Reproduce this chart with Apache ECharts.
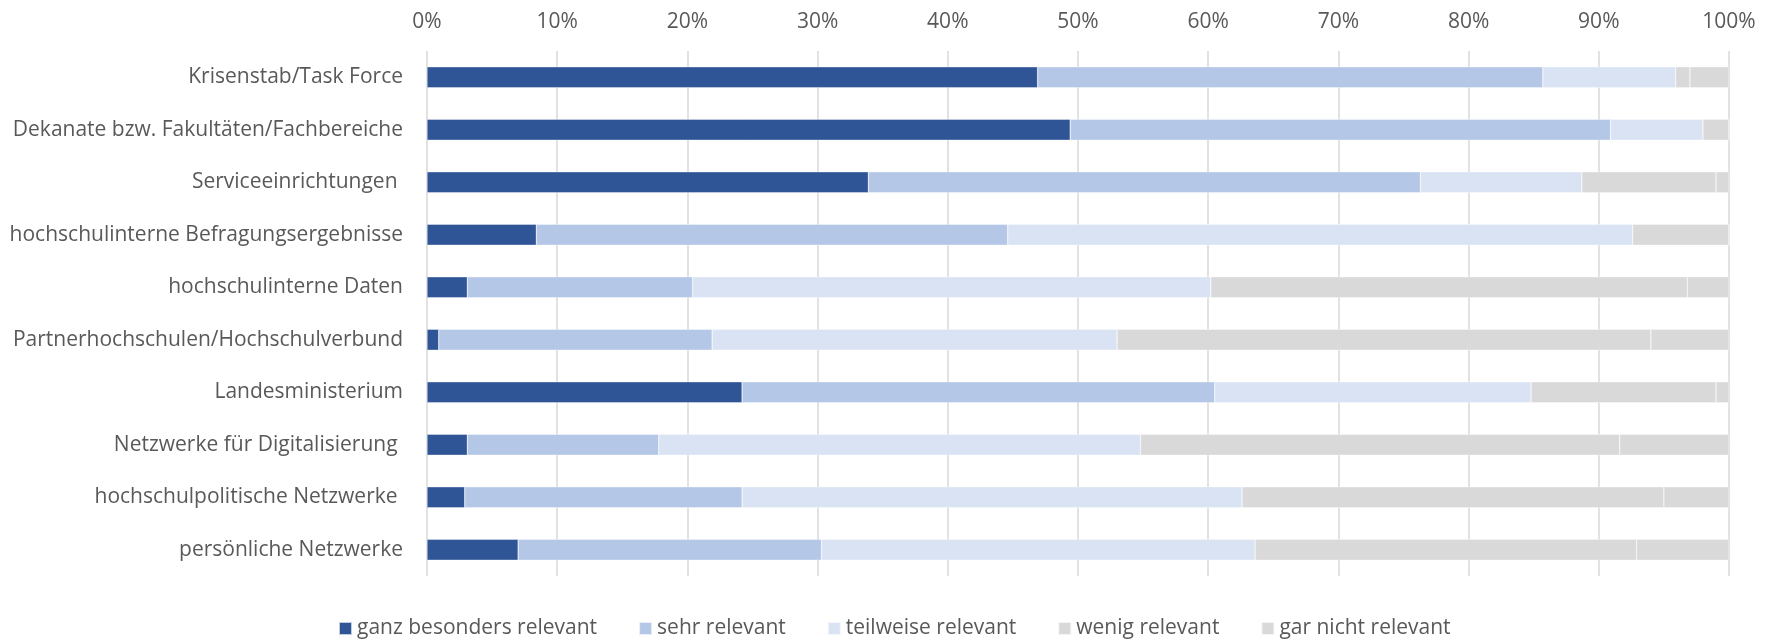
<!DOCTYPE html>
<html>
<head>
<meta charset="utf-8">
<script src="https://cdn.jsdelivr.net/npm/echarts@6/dist/echarts.min.js"></script>
<style>
  html, body { margin: 0; padding: 0; background: #ffffff; }
  #chart { width: 1776px; height: 640px; }
</style>
</head>
<body>
<div id="chart"></div>
<script>
const categories = [
  "Krisenstab/Task Force",
  "Dekanate bzw. Fakultäten/Fachbereiche",
  "Serviceeinrichtungen ",
  "hochschulinterne Befragungsergebnisse",
  "hochschulinterne Daten",
  "Partnerhochschulen/Hochschulverbund",
  "Landesministerium",
  "Netzwerke für Digitalisierung ",
  "hochschulpolitische Netzwerke ",
  "persönliche Netzwerke"
];
const seriesNames = ["ganz besonders relevant", "sehr relevant", "teilweise relevant", "wenig relevant", "gar nicht relevant"];
const ganzBesonders = [46.9, 49.4, 33.9, 8.4, 3.1, 0.9, 24.2, 3.1, 2.9, 7.0];
const sehr          = [38.8, 41.5, 42.4, 36.2, 17.3, 21.0, 36.3, 14.7, 21.3, 23.3];
const teilweise     = [10.2, 7.1, 12.4, 48.0, 39.8, 31.1, 24.3, 37.0, 38.4, 33.3];
const wenig         = [1.1, 2.0, 10.3, 7.4, 36.6, 41.0, 14.2, 36.8, 32.4, 29.3];
const garNicht      = [3.0, 0.0, 1.0, 0.0, 3.2, 6.0, 1.0, 8.4, 5.0, 7.1];
const colors = ["#2F5597", "#B4C7E7", "#DAE3F3", "#D9D9D9", "#D9D9D9"];

const allValues = [ganzBesonders, sehr, teilweise, wenig, garNicht];
const FONT = "'Open Sans', sans-serif";
const chart = echarts.init(document.getElementById('chart'), null, { renderer: 'canvas' });

chart.setOption({
  animation: false,
  backgroundColor: '#ffffff',
  grid: { left: 427, right: 47, top: 51, bottom: 64, containLabel: false },
  legend: {
    data: seriesNames,
    left: 338,
    top: 618,
    padding: 0,
    itemWidth: 13,
    itemHeight: 13,
    itemGap: 41,
    icon: 'rect',
    textStyle: { color: '#595959', fontSize: 21, fontFamily: FONT }
  },
  xAxis: {
    type: 'value',
    position: 'top',
    min: 0,
    max: 100,
    interval: 10,
    axisLine: { show: false },
    axisTick: { show: false },
    axisLabel: { formatter: '{value}%', color: '#595959', fontSize: 21, fontFamily: FONT, margin: 18 },
    splitLine: { show: true, lineStyle: { color: '#d9d9d9', width: 1.5 } }
  },
  yAxis: {
    type: 'category',
    inverse: true,
    data: categories,
    axisLine: { show: false },
    axisTick: { show: false },
    axisLabel: { color: '#595959', fontSize: 21, fontFamily: FONT, margin: 24 }
  },
  series: seriesNames.map((name, i) => ({
    name: name,
    type: 'bar',
    stack: 'total',
    barWidth: '40%',
    data: allValues[i],
    itemStyle: { color: colors[i], borderColor: 'rgba(255,255,255,0.7)', borderWidth: 0.5 }
  }))
});
</script>
</body>
</html>
